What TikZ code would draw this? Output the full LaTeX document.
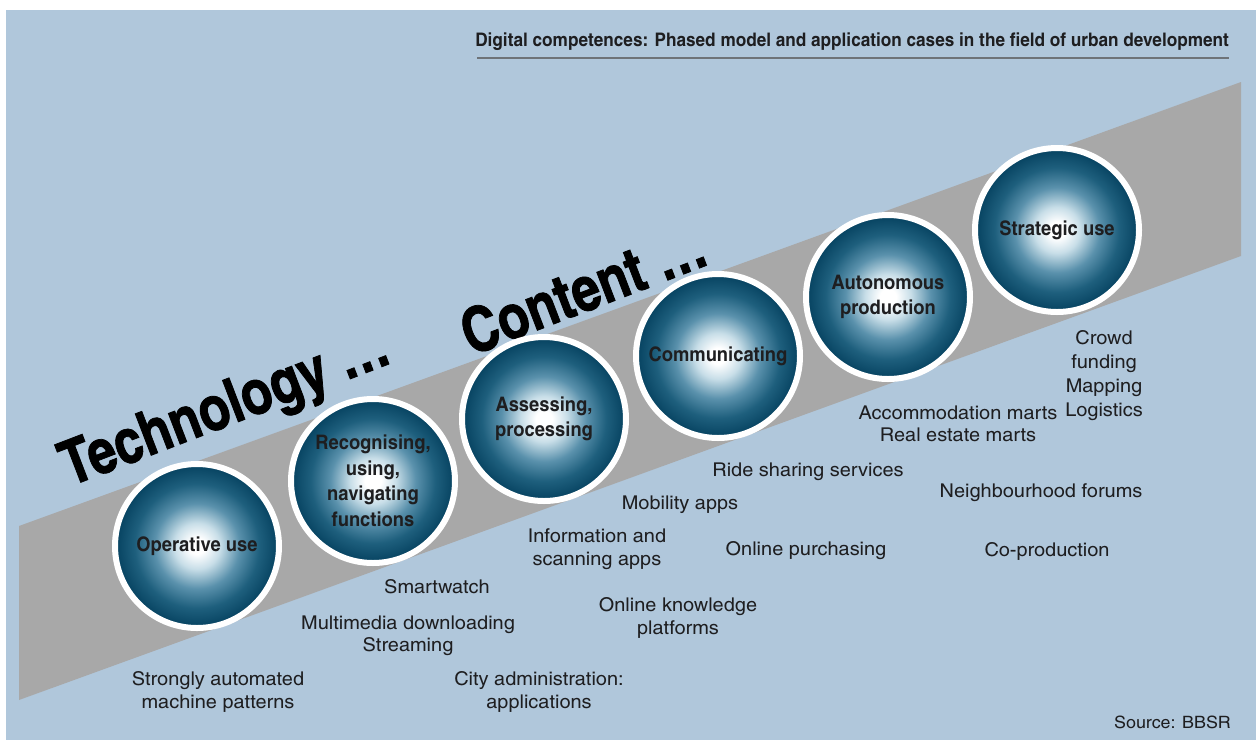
\documentclass[tikz,border=0pt]{standalone}
\usepackage{fontspec}
\setmainfont{texgyreheroscn}[Extension=.otf, UprightFont=*-regular, BoldFont=*-bold, ItalicFont=*-italic, BoldItalicFont=*-bolditalic]
\newfontfamily\lblfont{texgyreheroscn}[Extension=.otf, UprightFont=*-regular, BoldFont=*-bold, FakeStretch=1.28]
\newfontfamily\boldwide{texgyreheroscn}[Extension=.otf, UprightFont=*-bold, BoldFont=*-bold, FakeStretch=1.12]
\newfontfamily\heavyfont{texgyreheroscn}[Extension=.otf, UprightFont=*-bold, BoldFont=*-bold, FakeBold=1.2]
\definecolor{bgblue}{RGB}{176,199,219}
\definecolor{bandgrey}{RGB}{168,168,168}
\definecolor{tealdark}{RGB}{5,65,95}
\definecolor{tealC}{RGB}{30,95,125}
\definecolor{tealB}{RGB}{90,145,172}
\definecolor{tealA}{RGB}{200,222,232}
\definecolor{txt}{RGB}{30,30,32}
\definecolor{rulegrey}{RGB}{110,115,120}
\pgfdeclareradialshading{sphereteal}{\pgfpoint{0bp}{0bp}}{color(0bp)=(white); color(2.5bp)=(white); color(7bp)=(tealA); color(13bp)=(tealB); color(19bp)=(tealC); color(25bp)=(tealdark); color(50bp)=(tealdark)}
\tikzset{
  phase/.style={circle, minimum size=164pt, inner sep=0pt, draw=white, line width=6pt,
    shading=sphereteal, align=center, text=txt, font=\boldwide\fontsize{20}{25.5}\selectfont},
  usecase/.style={align=center, text=txt, inner sep=0pt, font=\lblfont\fontsize{19}{22.5}\selectfont},
  bigword/.style={text=black, inner sep=0pt, font=\heavyfont\fontsize{62}{62}\selectfont},
  headline/.style={text=txt, inner sep=0pt, font=\boldwide\fontsize{18.7}{20}\selectfont},
}
\begin{document}
\begin{tikzpicture}[x=1pt,y=-1pt]
\useasboundingbox (0,0) rectangle (1256,740);
\fill[white] (0,0) rectangle (1256,740);
\fill[bgblue] (6,10) rectangle (1256,740);
\fill[bandgrey] (19,526) -- (1241,82) -- (1241,256) -- (19,700) -- cycle;

\node[headline, anchor=base east] (title) at (1229,46) {Digital competences: Phased model and application cases in the field of urban development};
\draw[rulegrey, line width=1.5pt] (477,58) -- (1229,58);

\node[bigword, rotate=21] (tech) at (226,410) {Technology \dots};
\node[bigword, rotate=21] (content) at (583,289) {Content \dots};

\node[phase] (p1) at (197,546) {Operative use};
\node[phase] (p2) at (373,481) {Recognising,\\using,\\navigating\\functions};
\node[phase] (p3) at (544,419) {Assessing,\\processing};
\node[phase] (p4) at (718,356) {Communicating};
\node[phase] (p5) at (888,297) {Autonomous\\production};
\node[phase] (p6) at (1057,230) {Strategic use};

\node[usecase] (u1) at (218,692) {Strongly automated\\machine patterns};
\node[usecase] (u2) at (437,587) {Smartwatch};
\node[usecase] (u3) at (408,636) {Multimedia downloading\\Streaming};
\node[usecase] (u4) at (539,692) {City administration:\\applications};
\node[usecase] (u5) at (597,549) {Information and\\scanning apps};
\node[usecase] (u6) at (678,618) {Online knowledge\\platforms};
\node[usecase] (u7) at (680,505) {Mobility apps};
\node[usecase] (u8) at (808,472) {Ride sharing services};
\node[usecase] (u9) at (806,551) {Online purchasing};
\node[usecase] (u10) at (958,424) {Accommodation marts\\Real estate marts};
\node[usecase, font=\lblfont\fontsize{19}{24}\selectfont] (u11) at (1104,376) {Crowd\\funding\\Mapping\\Logistics};
\node[usecase] (u12) at (1041,493) {Neighbourhood forums};
\node[usecase] (u13) at (1047,551) {Co-production};

\node[usecase, font=\lblfont\fontsize{17}{20}\selectfont, anchor=base east] (src) at (1231,728) {Source: BBSR};
\end{tikzpicture}
\end{document}
